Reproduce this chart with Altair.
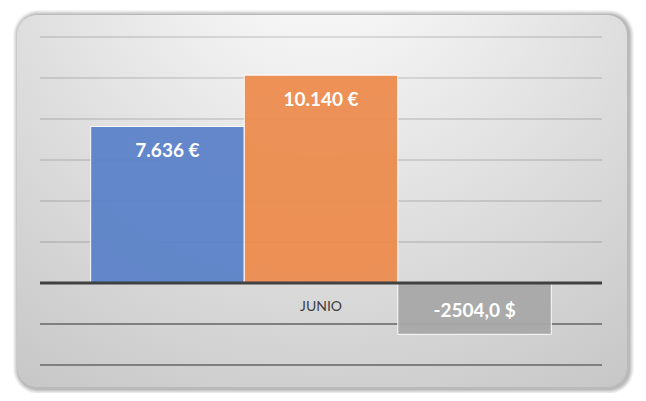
import altair as alt
import pandas as pd

# ---- data ----
months = ["JUNIO", "JUNIO", "JUNIO"]
series = ["A", "B", "C"]
values = [7636, 10140, -2504.0]
labels = ["7.636 €", "10.140 €", "-2504,0 $"]
colors = ["#5b82c9", "#ed8c4e", "#a8a8a8"]
grid_values = [-4000, -2000, 2000, 4000, 6000, 8000, 10000, 12000]
category = ["JUNIO"]

df = pd.DataFrame({"month": months, "series": series, "value": values, "label": labels})
grid_df = pd.DataFrame({"v": grid_values})
cat_df = pd.DataFrame({"month": category})

W, H = 562, 328
ydom = [-4000, 12000]
yscale = alt.Scale(domain=ydom, nice=False, zero=False)
xscale = alt.Scale(paddingInner=0, paddingOuter=0.11)

# ---- decorative panel (rounded, radial gradient, soft shadow) ----
px0, px1, py0, py1 = -23, 587, -22, 350
shadow_layers = []
for i, op in enumerate([0.04, 0.05, 0.06, 0.07, 0.08]):
    g = 5 - i
    shadow_layers.append(
        alt.Chart(cat_df).mark_rect(cornerRadius=20 + g, color="black", opacity=op).encode(
            x=alt.value(px0 - g + 1), x2=alt.value(px1 + g + 2),
            y=alt.value(py0 - g), y2=alt.value(py1 + g + 2),
        )
    )

panel_fill = {
    "gradient": "radial",
    "x1": 0.5, "y1": 0.05, "r1": 0.0,
    "x2": 0.5, "y2": 0.05, "r2": 0.95,
    "stops": [
        {"offset": 0, "color": "#ffffff"},
        {"offset": 0.55, "color": "#dedede"},
        {"offset": 1, "color": "#c4c4c4"},
    ],
}
panel = alt.Chart(cat_df).mark_rect(cornerRadius=20, fill=panel_fill).encode(
    x=alt.value(px0), x2=alt.value(px1), y=alt.value(py0), y2=alt.value(py1)
)

grid = alt.Chart(grid_df).mark_rule(strokeWidth=2).encode(
    y=alt.Y("v:Q", scale=yscale, axis=None),
    color=alt.condition(alt.datum.v < 0, alt.value("#7f7f7f"), alt.value("rgba(0,0,0,0.11)")),
)

bars = alt.Chart(df).mark_bar(opacity=0.94, stroke="white", strokeWidth=1).encode(
    x=alt.X("month:N", scale=xscale, axis=None),
    xOffset=alt.XOffset("series:N", scale=alt.Scale(paddingInner=0.0, paddingOuter=0)),
    y=alt.Y("value:Q", scale=yscale, axis=None),
    color=alt.Color("series:N", scale=alt.Scale(domain=series, range=colors), legend=None),
)

zero = alt.Chart(pd.DataFrame({"z": [0]})).mark_rule(strokeWidth=3, color="#404040").encode(
    y=alt.Y("z:Q", scale=yscale, axis=None)
)

txt_props = dict(font="Lato", fontSize=19, fontWeight="bold", color="white", baseline="middle")
pos_labels = alt.Chart(df).transform_filter(alt.datum.value >= 0).mark_text(dy=25, **txt_props).encode(
    x=alt.X("month:N", scale=xscale, axis=None),
    xOffset=alt.XOffset("series:N", scale=alt.Scale(paddingInner=0.0, paddingOuter=0)),
    y=alt.Y("value:Q", scale=yscale, axis=None),
    text="label:N",
)
neg_labels = alt.Chart(df).transform_filter(alt.datum.value < 0).mark_text(dy=-23, **txt_props).encode(
    x=alt.X("month:N", scale=xscale, axis=None),
    xOffset=alt.XOffset("series:N", scale=alt.Scale(paddingInner=0.0, paddingOuter=0)),
    y=alt.Y("value:Q", scale=yscale, axis=None),
    text="label:N",
)

cat_label = alt.Chart(cat_df.assign(z=0)).mark_text(
    font="Lato", fontSize=14, color="#404040", baseline="middle", dy=24
).encode(
    x=alt.X("month:N", scale=xscale, axis=None),
    y=alt.Y("z:Q", scale=yscale, axis=None),
    text="month:N",
)

chart = alt.layer(
    *shadow_layers, panel, grid, bars, zero, pos_labels, neg_labels, cat_label
).properties(
    width=W, height=H,
    padding={"left": 32, "top": 29, "right": 36, "bottom": 28},
    autosize=alt.AutoSizeParams(type="none"),
    background="white",
).configure_view(stroke=None)

chart.save("out.html", embed_options={"renderer": "svg", "actions": False})
